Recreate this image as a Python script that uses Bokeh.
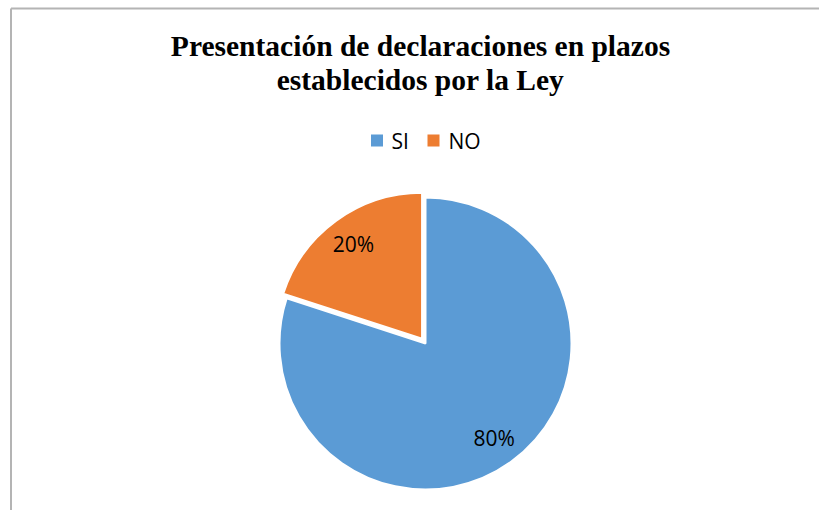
import math
from bokeh.plotting import figure
from bokeh.models import ColumnDataSource, Range1d
from bokeh.core.properties import value
from bokeh.embed import file_html
from bokeh.resources import INLINE

# ---- data ----
title_lines = ["Presentación de declaraciones en plazos", "establecidos por la Ley"]
categories = ["SI", "NO"]
values = [80, 20]
colors = ["#5B9BD5", "#ED7D31"]
explode = [0.0, 0.04]

W, H = 819, 510
p = figure(width=W, height=H, output_backend="svg", toolbar_location=None,
           x_range=Range1d(0, W), y_range=Range1d(0, H),
           x_axis_type=None, y_axis_type=None, min_border=0,
           min_border_left=0, min_border_right=0, min_border_top=0, min_border_bottom=0)
p.grid.visible = False
p.outline_line_color = None
p.background_fill_color = "white"
p.border_fill_color = "white"

# chart-area border (top and left visible, rest cropped)
p.line([10.5, 10.5], [0, 502], line_color="#b4b4b4", line_width=2)
p.line([10.5, W], [502, 502], line_color="#b4b4b4", line_width=2)

# title
p.text(x=[420, 420], y=[465, 431], text=title_lines,
       text_font=value("Liberation Serif"), text_font_style="bold",
       text_font_size="29.5px", text_align="center", text_baseline="alphabetic",
       text_color="black")

# pie
cx, cy, R = 425, 167, 146
total = float(sum(values))
starts, ends, xs, ys, lx, ly, labels = [], [], [], [], [], [], []
a = math.pi / 2
for v, e in zip(values, explode):
    sweep = 2 * math.pi * v / total
    s_ang, e_ang = a - sweep, a
    mid = (s_ang + e_ang) / 2
    ox = cx + e * R * math.cos(mid)
    oy = cy + e * R * math.sin(mid)
    starts.append(s_ang); ends.append(e_ang)
    xs.append(ox); ys.append(oy)
    lx.append(ox + 0.8 * R * math.cos(mid))
    ly.append(oy + 0.8 * R * math.sin(mid))
    labels.append(f"{round(100 * v / total)}%")
    a = s_ang

src = ColumnDataSource(dict(x=xs, y=ys, start=starts, end=ends, color=colors,
                            lx=lx, ly=ly, label=labels))
p.wedge(x="x", y="y", radius=R, start_angle="start", end_angle="end",
        fill_color="color", line_color="white", line_width=2, source=src)
p.text(x="lx", y="ly", text="label", source=src, text_font=value("Open Sans"),
       text_font_size="21px", text_align="center", text_baseline="middle",
       text_color="black")

# legend
leg_sq_x = [376.5, 433]
leg_tx_x = [391, 448]
p.scatter(x=leg_sq_x, y=[370, 370], marker="square", size=12,
          fill_color=colors, line_color=None)
p.text(x=leg_tx_x, y=[369.5, 369.5], text=categories, text_font=value("Open Sans"),
       text_font_size="21px", text_align="left", text_baseline="middle",
       text_color="black")

open("out.html", "w").write(file_html(p, INLINE))
